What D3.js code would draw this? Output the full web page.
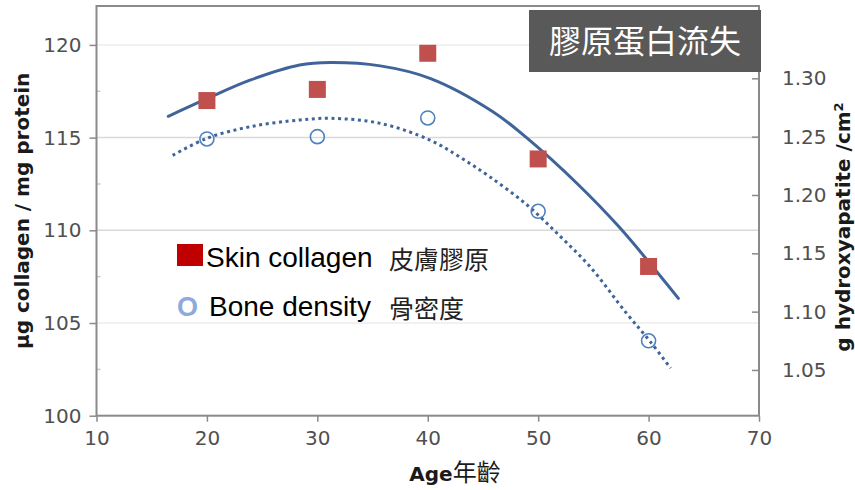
<!DOCTYPE html>
<html>
<head>
<meta charset="utf-8">
<script src="https://cdn.jsdelivr.net/npm/d3@7"></script>
<style>
  body { margin: 0; background: #fff; }
  svg { display: block; }
</style>
</head>
<body>
<svg id="chart" width="855" height="490"></svg>
<script>
// data
const ages = [20, 30, 40, 50, 60];
const skinCollagen = [117.0, 117.6, 119.55, 113.85, 108.05];   // µg collagen / mg protein
const boneDensity = [1.248, 1.250, 1.266, 1.186, 1.075];       // g hydroxyapatite / cm2

// trend lines
const skinTrendAge = [16.5, 20, 23.9, 28.4, 31.2, 35.7, 40.2, 45.9, 49, 53.5, 57.3, 62.7];
const skinTrendVal = [116.15, 117.1, 118.1, 118.92, 119.05, 118.87, 118.2, 116.4, 114.97, 112.54, 110.2, 106.33];
const boneTrendAge = [16.9, 20, 23.9, 28.4, 31.2, 35.7, 40.2, 42.9, 45.6, 49, 52, 54.7, 58, 60.1, 62];
const boneTrendVal = [1.234, 1.2486, 1.2585, 1.2643, 1.2657, 1.2614, 1.2471, 1.2325, 1.2157, 1.1914, 1.1645, 1.1385, 1.0986, 1.0749, 1.0515];

const xTicks = [10, 20, 30, 40, 50, 60, 70];
const leftTicks = [100, 105, 110, 115, 120];
const leftMinor = [102.5, 107.5, 112.5, 117.5];
const rightTicks = [1.05, 1.10, 1.15, 1.20, 1.25, 1.30];

const title = "膠原蛋白流失";
const legendLabels = ["Skin collagen", "Bone density"];
const legendCjk = ["皮膚膠原", "骨密度"];

const svg = d3.select("#chart");
const pLeft = 96.5, pRight = 759, pTop = 6, pBottom = 415.7;

const x = d3.scaleLinear().domain([10, 70]).range([pLeft, pRight]);
const yL = d3.scaleLinear().domain([100, 122.1]).range([pBottom, pTop]);
const yR = d3.scaleLinear().domain([1.0108, 1.362]).range([pBottom, pTop]);

const lineColor = "#3f6499";
const tickFont = "'DejaVu Sans', Verdana, sans-serif";

// grid lines
svg.append("g").selectAll("line")
  .data(leftTicks.slice(1))
  .join("line")
  .attr("x1", pLeft).attr("x2", pRight)
  .attr("y1", d => yL(d)).attr("y2", d => yL(d))
  .attr("stroke", d => (d == 110 || d == 115) ? "#d9d9d9" : "#ededed")
  .attr("stroke-width", 1.5);

// minor ticks (inside)
svg.append("g").selectAll("line")
  .data(leftMinor)
  .join("line")
  .attr("x1", pLeft).attr("x2", pLeft + 4)
  .attr("y1", d => yL(d)).attr("y2", d => yL(d))
  .attr("stroke", "#c8c8c8").attr("stroke-width", 1.5);

// axes
const axL = svg.append("g")
  .attr("transform", `translate(${pLeft},0)`)
  .call(d3.axisLeft(yL).tickValues(leftTicks).tickSize(7).tickPadding(8).tickFormat(d3.format("d")));
const axR = svg.append("g")
  .attr("transform", `translate(${pRight},0)`)
  .call(d3.axisRight(yR).tickValues(rightTicks).tickSize(-7).tickPadding(23).tickFormat(d3.format(".2f")));
const axB = svg.append("g")
  .attr("transform", `translate(0,${pBottom})`)
  .call(d3.axisBottom(x).tickValues(xTicks).tickSize(6).tickPadding(9).tickFormat(d3.format("d")));

[axL, axR, axB].forEach(g => {
  g.select(".domain").remove();
  g.selectAll(".tick line").attr("stroke", "#8a8a8a").attr("stroke-width", 1.5);
  g.selectAll(".tick text")
    .attr("fill", "#505050")
    .style("font-family", tickFont)
    .style("font-size", "20px");
});

// plot frame
svg.append("rect")
  .attr("x", pLeft).attr("y", pTop)
  .attr("width", pRight - pLeft).attr("height", pBottom - pTop)
  .attr("fill", "none")
  .attr("stroke", "#8a8a8a").attr("stroke-width", 2);

// trend lines
const skinLine = d3.line()
  .x(d => x(d[0])).y(d => yL(d[1]))
  .curve(d3.curveCatmullRom);
const boneLine = d3.line()
  .x(d => x(d[0])).y(d => yR(d[1]))
  .curve(d3.curveCatmullRom);

svg.append("path")
  .datum(skinTrendAge.map((a, i) => [a, skinTrendVal[i]]))
  .attr("d", skinLine)
  .attr("fill", "none")
  .attr("stroke", lineColor).attr("stroke-width", 3)
  .attr("stroke-linecap", "round");

svg.append("path")
  .datum(boneTrendAge.map((a, i) => [a, boneTrendVal[i]]))
  .attr("d", boneLine)
  .attr("fill", "none")
  .attr("stroke", lineColor).attr("stroke-width", 3)
  .attr("stroke-dasharray", "3,3.6");

// markers
svg.append("g").selectAll("rect")
  .data(ages)
  .join("rect")
  .attr("x", (d, i) => x(d) - 8.5)
  .attr("y", (d, i) => yL(skinCollagen[i]) - 8.5)
  .attr("width", 17).attr("height", 17)
  .attr("fill", "#c0504d");

svg.append("g").selectAll("circle")
  .data(ages)
  .join("circle")
  .attr("cx", d => x(d))
  .attr("cy", (d, i) => yR(boneDensity[i]))
  .attr("r", 7)
  .attr("fill", "none")
  .attr("stroke", "#4f81bd").attr("stroke-width", 1.6);

// axis titles
svg.append("text")
  .attr("transform", `translate(29,${(pTop + pBottom) / 2}) rotate(-90)`)
  .attr("text-anchor", "middle")
  .style("font-family", tickFont).style("font-weight", "bold").style("font-size", "20px")
  .attr("fill", "#1a1a1a")
  .text("µg collagen / mg protein");

const rt = svg.append("text")
  .attr("transform", `translate(850,227) rotate(-90)`)
  .attr("text-anchor", "middle")
  .style("font-family", tickFont).style("font-weight", "bold").style("font-size", "20px")
  .attr("fill", "#1a1a1a");
rt.append("tspan").text("g hydroxyapatite /cm");
rt.append("tspan").attr("dy", -7).style("font-size", "13px").text("2");

const xt = svg.append("text")
  .attr("x", 455).attr("y", 481)
  .attr("text-anchor", "middle")
  .attr("fill", "#1a1a1a");
xt.append("tspan")
  .style("font-family", tickFont).style("font-weight", "bold").style("font-size", "20px")
  .text("Age");
xt.append("tspan")
  .style("font-family", "'Noto Sans CJK TC', sans-serif").style("font-size", "24px")
  .text("年齡");

// legend
const legendFont = "'Liberation Sans', Arial, sans-serif";
const cjkFont = "'Noto Sans CJK TC', sans-serif";
svg.append("rect")
  .attr("x", 177).attr("y", 244).attr("width", 26).attr("height", 22)
  .attr("fill", "#c00000");
svg.append("text")
  .attr("x", 177).attr("y", 316)
  .style("font-family", legendFont).style("font-weight", "bold").style("font-size", "27px")
  .attr("fill", "#8eaadb")
  .text("O");
svg.append("g").selectAll("text")
  .data(legendLabels)
  .join("text")
  .attr("x", (d, i) => i == 0 ? 206 : 209)
  .attr("y", (d, i) => 267 + i * 49)
  .style("font-family", legendFont).style("font-size", "28px")
  .attr("fill", "#000")
  .text(d => d);
svg.append("g").selectAll("text")
  .data(legendCjk)
  .join("text")
  .attr("x", 389)
  .attr("y", (d, i) => 269 + i * 49)
  .style("font-family", cjkFont).style("font-size", "25px")
  .attr("fill", "#222")
  .text(d => d);

// title box
svg.append("rect")
  .attr("x", 529).attr("y", 10).attr("width", 232).attr("height", 62)
  .attr("fill", "#595959");
svg.append("text")
  .attr("x", 645).attr("y", 53)
  .attr("text-anchor", "middle")
  .style("font-family", cjkFont).style("font-size", "32px")
  .attr("fill", "#fff")
  .text(title);
</script>
</body>
</html>
